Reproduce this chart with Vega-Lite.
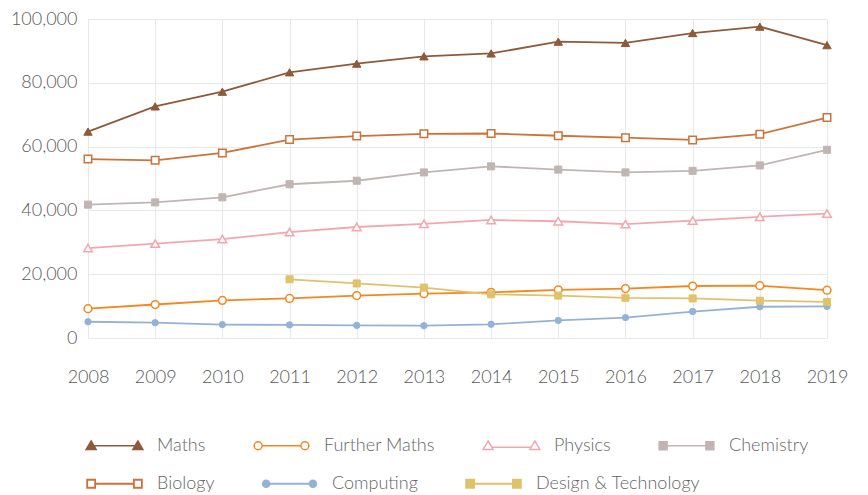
{
  "$schema": "https://vega.github.io/schema/vega-lite/v6.json",
  "width": 739,
  "height": 319,
  "autosize": {"type": "none"},
  "padding": {"left": 88, "top": 19, "right": 41, "bottom": 157},
  "background": "white",
  "config": {
    "view": {"stroke": null},
    "font": "Lato",
    "axis": {"labelFont": "Lato", "labelFontWeight": 300, "labelColor": "#595959", "labelFontSize": 18, "gridColor": "#E8E8E8", "gridWidth": 1, "domain": false, "ticks": false, "title": null},
    "legend": {"labelFont": "Lato", "labelFontWeight": 300, "labelColor": "#666666", "labelFontSize": 18}
  },
  "data": {
    "values": [
      {"year": 2008, "subject": "Maths", "value": 64700},
      {"year": 2009, "subject": "Maths", "value": 72600},
      {"year": 2010, "subject": "Maths", "value": 77200},
      {"year": 2011, "subject": "Maths", "value": 83300},
      {"year": 2012, "subject": "Maths", "value": 86000},
      {"year": 2013, "subject": "Maths", "value": 88300},
      {"year": 2014, "subject": "Maths", "value": 89200},
      {"year": 2015, "subject": "Maths", "value": 92900},
      {"year": 2016, "subject": "Maths", "value": 92500},
      {"year": 2017, "subject": "Maths", "value": 95600},
      {"year": 2018, "subject": "Maths", "value": 97600},
      {"year": 2019, "subject": "Maths", "value": 91800},
      {"year": 2008, "subject": "Further Maths", "value": 9200},
      {"year": 2009, "subject": "Further Maths", "value": 10500},
      {"year": 2010, "subject": "Further Maths", "value": 11800},
      {"year": 2011, "subject": "Further Maths", "value": 12400},
      {"year": 2012, "subject": "Further Maths", "value": 13300},
      {"year": 2013, "subject": "Further Maths", "value": 13900},
      {"year": 2014, "subject": "Further Maths", "value": 14300},
      {"year": 2015, "subject": "Further Maths", "value": 15100},
      {"year": 2016, "subject": "Further Maths", "value": 15500},
      {"year": 2017, "subject": "Further Maths", "value": 16300},
      {"year": 2018, "subject": "Further Maths", "value": 16400},
      {"year": 2019, "subject": "Further Maths", "value": 15000},
      {"year": 2008, "subject": "Physics", "value": 28200},
      {"year": 2009, "subject": "Physics", "value": 29600},
      {"year": 2010, "subject": "Physics", "value": 31000},
      {"year": 2011, "subject": "Physics", "value": 33200},
      {"year": 2012, "subject": "Physics", "value": 34800},
      {"year": 2013, "subject": "Physics", "value": 35800},
      {"year": 2014, "subject": "Physics", "value": 37000},
      {"year": 2015, "subject": "Physics", "value": 36600},
      {"year": 2016, "subject": "Physics", "value": 35700},
      {"year": 2017, "subject": "Physics", "value": 36800},
      {"year": 2018, "subject": "Physics", "value": 38000},
      {"year": 2019, "subject": "Physics", "value": 39000},
      {"year": 2008, "subject": "Chemistry", "value": 41800},
      {"year": 2009, "subject": "Chemistry", "value": 42500},
      {"year": 2010, "subject": "Chemistry", "value": 44100},
      {"year": 2011, "subject": "Chemistry", "value": 48200},
      {"year": 2012, "subject": "Chemistry", "value": 49300},
      {"year": 2013, "subject": "Chemistry", "value": 51900},
      {"year": 2014, "subject": "Chemistry", "value": 53800},
      {"year": 2015, "subject": "Chemistry", "value": 52800},
      {"year": 2016, "subject": "Chemistry", "value": 51900},
      {"year": 2017, "subject": "Chemistry", "value": 52400},
      {"year": 2018, "subject": "Chemistry", "value": 54100},
      {"year": 2019, "subject": "Chemistry", "value": 59000},
      {"year": 2008, "subject": "Biology", "value": 56100},
      {"year": 2009, "subject": "Biology", "value": 55700},
      {"year": 2010, "subject": "Biology", "value": 58000},
      {"year": 2011, "subject": "Biology", "value": 62200},
      {"year": 2012, "subject": "Biology", "value": 63300},
      {"year": 2013, "subject": "Biology", "value": 64000},
      {"year": 2014, "subject": "Biology", "value": 64100},
      {"year": 2015, "subject": "Biology", "value": 63400},
      {"year": 2016, "subject": "Biology", "value": 62800},
      {"year": 2017, "subject": "Biology", "value": 62100},
      {"year": 2018, "subject": "Biology", "value": 63900},
      {"year": 2019, "subject": "Biology", "value": 69100},
      {"year": 2008, "subject": "Computing", "value": 5100},
      {"year": 2009, "subject": "Computing", "value": 4800},
      {"year": 2010, "subject": "Computing", "value": 4200},
      {"year": 2011, "subject": "Computing", "value": 4100},
      {"year": 2012, "subject": "Computing", "value": 3950},
      {"year": 2013, "subject": "Computing", "value": 3850},
      {"year": 2014, "subject": "Computing", "value": 4300},
      {"year": 2015, "subject": "Computing", "value": 5500},
      {"year": 2016, "subject": "Computing", "value": 6400},
      {"year": 2017, "subject": "Computing", "value": 8300},
      {"year": 2018, "subject": "Computing", "value": 9800},
      {"year": 2019, "subject": "Computing", "value": 9900},
      {"year": 2011, "subject": "Design & Technology", "value": 18400},
      {"year": 2012, "subject": "Design & Technology", "value": 17100},
      {"year": 2013, "subject": "Design & Technology", "value": 15800},
      {"year": 2014, "subject": "Design & Technology", "value": 13700},
      {"year": 2015, "subject": "Design & Technology", "value": 13300},
      {"year": 2016, "subject": "Design & Technology", "value": 12600},
      {"year": 2017, "subject": "Design & Technology", "value": 12400},
      {"year": 2018, "subject": "Design & Technology", "value": 11700},
      {"year": 2019, "subject": "Design & Technology", "value": 11300}
    ]
  },
  "encoding": {
    "x": {
      "field": "year", "type": "quantitative",
      "scale": {"domain": [2008, 2019], "nice": false, "zero": false},
      "axis": {"values": [2008, 2009, 2010, 2011, 2012, 2013, 2014, 2015, 2016, 2017, 2018, 2019], "format": "d", "labelPadding": 30, "labelFlush": false, "labelOverlap": false}
    },
    "y": {
      "field": "value", "type": "quantitative",
      "scale": {"domain": [0, 100000], "nice": false},
      "axis": {"values": [0, 20000, 40000, 60000, 80000, 100000], "format": ",d", "labelPadding": 11}
    }
  },
  "layer": [
    {
      "mark": {"type": "line"},
      "encoding": {
        "color": {
          "field": "subject", "type": "nominal",
          "scale": {
            "domain": ["Maths", "Further Maths", "Physics", "Chemistry", "Biology", "Computing", "Design & Technology"],
            "range": ["#8E5A3A", "#F5871F", "#F3A7AD", "#C1B5B3", "#CB733B", "#93B3D6", "#DFC26B"]
          },
          "legend": {
            "title": null,
            "orient": "none",
            "legendX": -3,
            "legendY": 397,
            "direction": "horizontal",
            "values": ["Maths", "Further Maths", "Physics", "Chemistry"],
            "columnPadding": 45,
            "labelOffset": 13,
            "labelLimit": 300,
            "labelColor": "#666666",
            "symbolSize": 3249,
            "symbolStrokeWidth": 1.5,
            "encoding": {
              "symbols": {
                "shape": {"value": {"expr": "datum.value === 'Maths' ? 'M-0.82,0L0.82,0M-0.82,-0.17L-0.645,0.13L-0.995,0.13ZM0.82,-0.17L0.995,0.13L0.645,0.13Z' : datum.value === 'Further Maths' ? 'M-0.68,0L0.68,0M-0.96,0A0.14,0.14 0 1,0 -0.68,0A0.14,0.14 0 1,0 -0.96,0ZM0.68,0A0.14,0.14 0 1,0 0.96,0A0.14,0.14 0 1,0 0.68,0Z' : datum.value === 'Physics' ? 'M-0.7,0.05L0.7,0.05M-0.82,-0.17L-0.645,0.13L-0.995,0.13ZM0.82,-0.17L0.995,0.13L0.645,0.13Z' : 'M-0.82,0L0.82,0M-0.96,-0.14L-0.68,-0.14L-0.68,0.14L-0.96,0.14ZM0.68,-0.14L0.96,-0.14L0.96,0.14L0.68,0.14Z'"}},
                "fill": {"value": {"expr": "datum.value === 'Maths' ? '#8E5A3A' : datum.value === 'Chemistry' ? '#C1B5B3' : '#FFFFFF'"}},
                "stroke": {"value": {"expr": "datum.value === 'Maths' ? '#8E5A3A' : datum.value === 'Further Maths' ? '#F5871F' : datum.value === 'Physics' ? '#F3A7AD' : '#C1B5B3'"}},
                "strokeWidth": {"value": 1.5},
                "size": {"value": 3249},
                "opacity": {"value": 1},
                "fillOpacity": {"value": 1},
                "strokeOpacity": {"value": 1}
              }
            }
          }
        },
        "strokeWidth": {
          "field": "subject", "type": "nominal",
          "scale": {
            "type": "ordinal",
            "domain": ["Biology", "Computing", "Design & Technology", "Maths", "Further Maths", "Physics", "Chemistry"],
            "range": [1.8, 1.8, 1.8, 1.8, 1.8, 1.8, 1.8]
          },
          "legend": {
            "title": null,
            "orient": "none",
            "legendX": -3,
            "legendY": 435,
            "direction": "horizontal",
            "values": ["Biology", "Computing", "Design & Technology"],
            "columnPadding": 44,
            "labelOffset": 13,
            "labelLimit": 300,
            "labelColor": "#666666",
            "symbolSize": 3249,
            "symbolStrokeWidth": 1.5,
            "encoding": {
              "symbols": {
                "shape": {"value": {"expr": "datum.value === 'Biology' ? 'M-0.68,0L0.68,0M-0.96,-0.14L-0.68,-0.14L-0.68,0.14L-0.96,0.14ZM0.68,-0.14L0.96,-0.14L0.96,0.14L0.68,0.14Z' : datum.value === 'Computing' ? 'M-0.82,0L0.82,0M-0.94,0A0.12,0.12 0 1,0 -0.7,0A0.12,0.12 0 1,0 -0.94,0ZM0.7,0A0.12,0.12 0 1,0 0.94,0A0.12,0.12 0 1,0 0.7,0Z' : 'M-0.82,0L0.82,0M-0.96,-0.14L-0.68,-0.14L-0.68,0.14L-0.96,0.14ZM0.68,-0.14L0.96,-0.14L0.96,0.14L0.68,0.14Z'"}},
                "fill": {"value": {"expr": "datum.value === 'Computing' ? '#93B3D6' : datum.value === 'Design & Technology' ? '#DFC26B' : '#FFFFFF'"}},
                "stroke": {"value": {"expr": "datum.value === 'Biology' ? '#CB733B' : datum.value === 'Computing' ? '#93B3D6' : '#DFC26B'"}},
                "strokeWidth": {"value": 1.5},
                "size": {"value": 3249},
                "opacity": {"value": 1},
                "fillOpacity": {"value": 1},
                "strokeOpacity": {"value": 1}
              }
            }
          }
        }
      }
    },
    {
      "transform": [{"filter": {"field": "subject", "equal": "Maths"}}],
      "mark": {"type": "point", "shape": "triangle-up", "filled": true, "fill": "#8E5A3A", "stroke": "#8E5A3A", "strokeWidth": 1, "size": 70, "opacity": 1}
    },
    {
      "transform": [{"filter": {"field": "subject", "equal": "Further Maths"}}],
      "mark": {"type": "point", "shape": "circle", "filled": true, "fill": "#FFFFFF", "stroke": "#F5871F", "strokeWidth": 1.5, "size": 60, "opacity": 1}
    },
    {
      "transform": [{"filter": {"field": "subject", "equal": "Physics"}}],
      "mark": {"type": "point", "shape": "triangle-up", "filled": true, "fill": "#FFFFFF", "stroke": "#F3A7AD", "strokeWidth": 1.5, "size": 75, "opacity": 1}
    },
    {
      "transform": [{"filter": {"field": "subject", "equal": "Chemistry"}}],
      "mark": {"type": "point", "shape": "square", "filled": true, "fill": "#C1B5B3", "stroke": "#C1B5B3", "strokeWidth": 1, "size": 50, "opacity": 1}
    },
    {
      "transform": [{"filter": {"field": "subject", "equal": "Biology"}}],
      "mark": {"type": "point", "shape": "square", "filled": true, "fill": "#FFFFFF", "stroke": "#CB733B", "strokeWidth": 1.5, "size": 56, "opacity": 1}
    },
    {
      "transform": [{"filter": {"field": "subject", "equal": "Computing"}}],
      "mark": {"type": "point", "shape": "circle", "filled": true, "fill": "#93B3D6", "stroke": "#93B3D6", "strokeWidth": 1, "size": 40, "opacity": 1}
    },
    {
      "transform": [{"filter": {"field": "subject", "equal": "Design & Technology"}}],
      "mark": {"type": "point", "shape": "square", "filled": true, "fill": "#DFC26B", "stroke": "#DFC26B", "strokeWidth": 1, "size": 50, "opacity": 1}
    }
  ]
}
